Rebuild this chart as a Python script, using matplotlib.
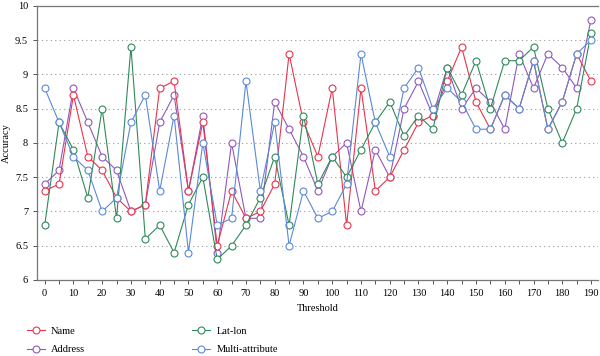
import matplotlib.pyplot as plt
from matplotlib.ticker import MultipleLocator

plt.rcParams['font.family'] = ['Liberation Serif', 'DejaVu Serif']

threshold = list(range(0, 195, 5))

name = [7.3, 7.4, 8.7, 7.8, 7.6, 7.2, 7.0, 7.1, 8.8, 8.9, 7.3, 8.3, 6.5,
        7.3, 6.9, 7.0, 7.4, 9.3, 8.3, 7.8, 8.8, 6.8, 8.8, 7.3, 7.5,
        7.9, 8.3, 8.4, 8.9, 9.4, 8.6, 8.2, 8.7, 8.5, 9.2, 8.2, 8.6, 9.3, 8.9]
address = [7.4, 7.6, 8.8, 8.3, 7.8, 7.6, 7.0, 7.1, 8.3, 8.7, 7.3, 8.4, 6.4,
           8.0, 6.9, 6.9, 8.6, 8.2, 7.8, 7.3, 7.8, 8.0, 7.0, 7.9, 7.5,
           8.5, 8.9, 8.4, 9.1, 8.5, 8.8, 8.6, 8.2, 9.3, 8.8, 9.3, 9.1, 8.8, 9.8]
latlon = [6.8, 8.3, 7.9, 7.2, 8.5, 6.9, 9.4, 6.6, 6.8, 6.4, 7.1, 7.5, 6.3,
          6.5, 6.8, 7.2, 7.8, 6.8, 8.4, 7.4, 7.8, 7.5, 7.9, 8.3, 8.6,
          8.1, 8.4, 8.2, 9.1, 8.7, 9.2, 8.5, 9.2, 9.2, 9.4, 8.5, 8.0, 8.5, 9.6]
multi = [8.8, 8.3, 7.8, 7.6, 7.0, 7.2, 8.3, 8.7, 7.3, 8.4, 6.4, 8.0, 6.8,
         6.9, 8.9, 7.3, 8.3, 6.5, 7.3, 6.9, 7.0, 7.4, 9.3, 8.3, 7.8,
         8.8, 9.1, 8.5, 8.8, 8.6, 8.2, 8.2, 8.7, 8.5, 9.2, 8.2, 8.6, 9.3, 9.5]

fig = plt.figure(figsize=(6, 3.56), dpi=100)
ax = fig.add_axes([0.062, 0.2135, 0.935, 0.77])

style = dict(marker='o', markersize=5, markerfacecolor='white', linewidth=0.8,
             markeredgewidth=0.8)
h_addr, = ax.plot(threshold, address, color='#9058be', label='Address', **style)
h_name, = ax.plot(threshold, name, color='#e8344f', label='Name', **style)
h_lat, = ax.plot(threshold, latlon, color='#2f8a5a', label='Lat-lon', **style)
h_multi, = ax.plot(threshold, multi, color='#5a8ad6', label='Multi-attribute', **style)

ax.set_xlim(-2.6, 192.5)
ax.set_ylim(6, 10)
ax.xaxis.set_major_locator(MultipleLocator(10))
ax.xaxis.set_minor_locator(MultipleLocator(5))
ax.set_yticks([6, 6.5, 7, 7.5, 8, 8.5, 9, 9.5, 10])
ax.set_yticklabels(['6', '6.5', '7', '7.5', '8', '8.5', '9', '9.5', '10'])
ax.grid(axis='y', linestyle=(0, (1, 3)), color='#999999', linewidth=0.8)
ax.tick_params(labelsize=7.5, length=3, width=0.7, color='#555555')
ax.tick_params(which='minor', length=3, width=0.7, color='#555555')

for s in ['left', 'bottom', 'top']:
    ax.spines[s].set_color('#777777')
    ax.spines[s].set_linewidth(0.9)
ax.spines['right'].set_visible(False)

ax.set_xlabel('Threshold', fontsize=7.5, labelpad=4)
ax.set_ylabel('Accuracy', fontsize=7.5, labelpad=3)

fig.legend(handles=[h_name, h_addr, h_lat, h_multi], ncol=2, frameon=False,
           loc='upper left', bbox_to_anchor=(0.045, 0.082), fontsize=7.5,
           handlelength=1.7, handletextpad=0.6, labelspacing=0.85,
           columnspacing=10.3, borderpad=0, borderaxespad=0)

fig.savefig('out.png', dpi=100)
